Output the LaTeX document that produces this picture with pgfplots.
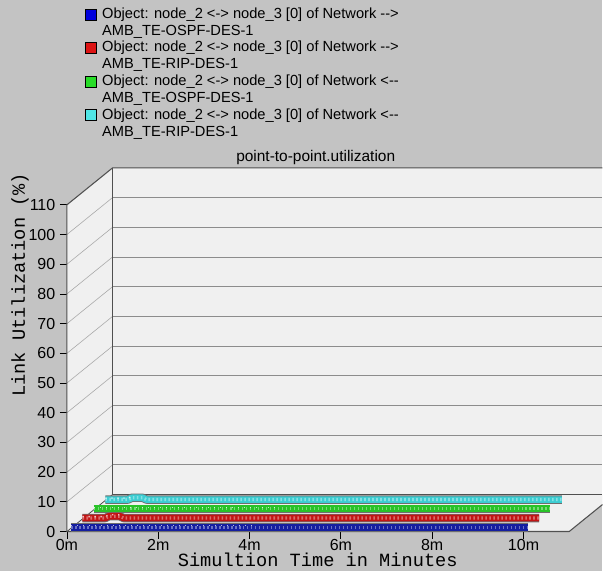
\documentclass[border=0pt]{standalone}
\usepackage{pgfplots}
\pgfplotsset{compat=1.18}
\usepackage{pgfplotstable}
\usepackage{fontspec}
\setmainfont{Liberation Sans}
\newfontfamily\monofont{Liberation Mono}

\definecolor{bggray}{RGB}{195,195,195}
\definecolor{wall}{RGB}{240,240,240}
\definecolor{gridc}{RGB}{140,140,140}
\definecolor{framec}{RGB}{80,80,80}
\definecolor{edgec}{RGB}{110,110,110}
\definecolor{sblue}{RGB}{20,30,160}
\definecolor{sred}{RGB}{195,20,20}
\definecolor{sgreen}{RGB}{40,195,40}
\definecolor{scyan}{RGB}{60,205,210}
\definecolor{kblue}{RGB}{0,0,220}
\definecolor{kred}{RGB}{220,20,20}
\definecolor{kgreen}{RGB}{40,220,40}
\definecolor{kcyan}{RGB}{80,230,230}

% link utilization (%) over simulation time (min)
\pgfplotstableread{
t    blue red green cyan
0.0  0.3  0.3 0.3   0.3
0.5  0.3  0.3 0.3   0.3
0.58 0.3  0.9 0.3   0.9
0.82 0.3  0.9 0.3   0.9
0.9  0.3  0.3 0.3   0.3
1.5  0.3  0.3 0.3   0.3
2.0  0.3  0.3 0.3   0.3
3.0  0.3  0.3 0.3   0.3
4.0  0.3  0.3 0.3   0.3
5.0  0.3  0.3 0.3   0.3
6.0  0.3  0.3 0.3   0.3
7.0  0.3  0.3 0.3   0.3
8.0  0.3  0.3 0.3   0.3
9.0  0.3  0.3 0.3   0.3
10.0 0.3  0.3 0.3   0.3
}\util

% depth of the 3-D box: one minute to the right, 12.45 % up
% each series is a flat band centred at depth #2; #1 column, #3 colour, #4 end of the lighter stretch
\newcommand\ribbon[4]{%
  \addplot[edgec, line width=6.3pt, line cap=butt, line join=round]
    table[x expr=\thisrow{t}+#2, y expr=\thisrow{#1}+12.45*#2]{\util};
  \addplot[#3, line width=5pt, line cap=butt, line join=round]
    table[x expr=\thisrow{t}+#2, y expr=\thisrow{#1}+12.45*#2]{\util};
  \addplot[#3!50!white, line width=2.4pt, line cap=butt, dash pattern=on 1.2pt off 1.8pt, opacity=0.75]
    table[x expr=\thisrow{t}+#2, y expr=\thisrow{#1}+12.45*#2]{\util};
  \addplot[white, line width=1pt, line cap=butt, dash pattern=on 1pt off 3.5pt, opacity=0.7,
    restrict x to domain=0:#4]
    table[x expr=\thisrow{t}+#2, y expr=\thisrow{#1}+12.45*#2+0.5]{\util};
}

\begin{document}
\begin{tikzpicture}[x=0.75pt, y=0.75pt]
\fill[bggray] (0,0) rectangle (603,572);

\begin{axis}[
  at={(50.25pt,30pt)}, anchor=south west,
  scale only axis, width=402pt, height=273.0pt,
  xmin=0, xmax=11.729, ymin=0, ymax=122.45,
  clip=false,
  axis lines*=left, axis line style={draw=none},
  xtick={0,2,4,6,8,10}, xticklabels={0m,2m,4m,6m,8m,10m},
  ytick={0,10,...,110},
  tick align=outside, major tick length=5.25pt,
  tick style={black, line width=0.6pt},
  ticklabel style={font=\fontsize{12}{14}\selectfont},
  xticklabel style={inner sep=0.5pt},
  /pgf/number format/assume math mode=true,
]
% walls of the box
\fill[wall] (axis cs:1,12.45) rectangle (axis cs:11.729,122.45);
\fill[wall] (axis cs:0,0) -- (axis cs:0,110) -- (axis cs:1,122.45) -- (axis cs:1,12.45) -- cycle;
\fill[wall] (axis cs:0,0) -- (axis cs:11,0) -- (axis cs:11.729,9.08) -- (axis cs:11.729,12.45) -- (axis cs:1,12.45) -- cycle;
\pgfplotsinvokeforeach{10,20,...,100}{
  \draw[gridc!70!wall, line width=0.45pt] (axis cs:0,#1) -- (axis cs:1,#1+12.45);
  \draw[gridc, line width=0.6pt] (axis cs:1,#1+12.45) -- (axis cs:11.729,#1+12.45);
}
\draw[framec, line width=0.8pt] (axis cs:0,0) -- (axis cs:0,110) -- (axis cs:1,122.45) -- (axis cs:11.729,122.45);
\draw[framec, line width=0.8pt] (axis cs:1,122.45) -- (axis cs:1,12.45) -- (axis cs:11.729,12.45);
\draw[framec, line width=0.6pt] (axis cs:0,0) -- (axis cs:1,12.45);
\draw[framec, line width=0.8pt] (axis cs:0,0) -- (axis cs:11,0) -- (axis cs:11.729,9.08);

\ribbon{cyan}{0.84}{scyan}{1.5}
\ribbon{green}{0.59}{sgreen}{5.3}
\ribbon{red}{0.34}{sred}{1.2}
\ribbon{blue}{0.09}{sblue}{4.5}
\end{axis}

% axis titles
\node[rotate=90, font=\monofont\fontsize{14}{16}\selectfont] at (20,287) {Link Utilization (\%)};
\node[anchor=base, inner sep=0, font=\monofont\fontsize{14}{16}\selectfont] at (318,5) {Simultion Time in Minutes};
\node[anchor=base, font=\fontsize{11.6}{13}\selectfont] at (316,410) {point-to-point.utilization};

% legend
\begin{scope}[font=\fontsize{11}{13}\selectfont]
\foreach \yy/\cc in {557.5/kblue, 524/kred, 490.5/kgreen, 457/kcyan}{
  \filldraw[fill=\cc, draw=black, line width=0.6pt] (85,\yy-5.5) rectangle (96,\yy+5.5);
}
\node[anchor=base west, inner sep=0] at (102,553) {Object: node\_2 <-> node\_3 [0] of Network -{}->};
\node[anchor=base west, inner sep=0] at (102,536) {AMB\_TE-OSPF-DES-1};
\node[anchor=base west, inner sep=0] at (102,520) {Object: node\_2 <-> node\_3 [0] of Network -{}->};
\node[anchor=base west, inner sep=0] at (102,503) {AMB\_TE-RIP-DES-1};
\node[anchor=base west, inner sep=0] at (102,486) {Object: node\_2 <-> node\_3 [0] of Network <-{}-};
\node[anchor=base west, inner sep=0] at (102,469) {AMB\_TE-OSPF-DES-1};
\node[anchor=base west, inner sep=0] at (102,452) {Object: node\_2 <-> node\_3 [0] of Network <-{}-};
\node[anchor=base west, inner sep=0] at (102,435) {AMB\_TE-RIP-DES-1};
\end{scope}
\end{tikzpicture}
\end{document}
